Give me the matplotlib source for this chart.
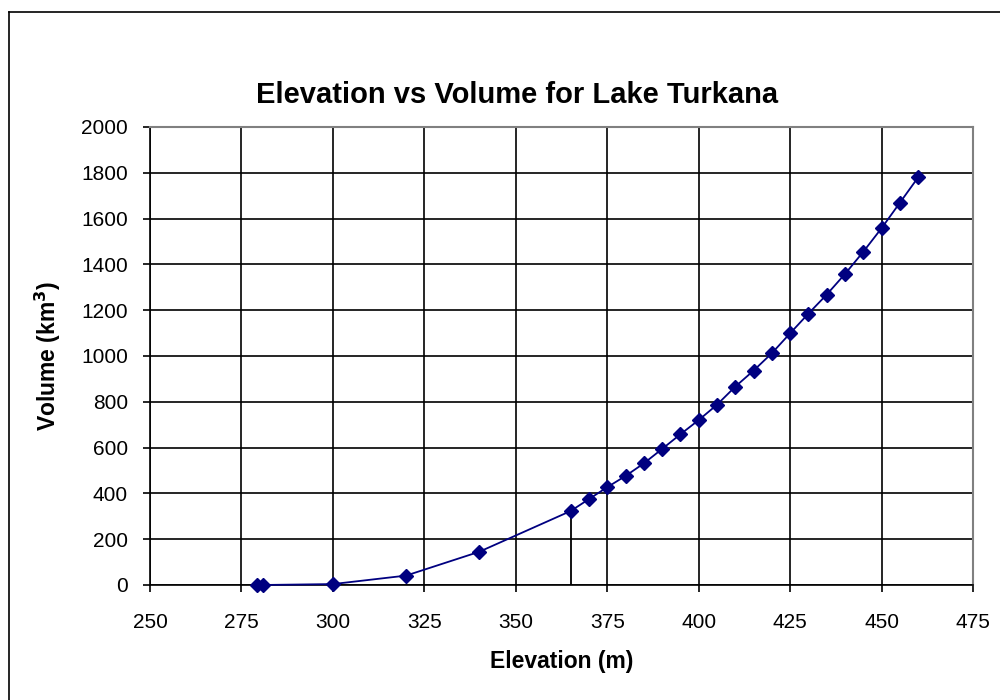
import matplotlib
matplotlib.use("Agg")
import matplotlib.pyplot as plt
from matplotlib.lines import Line2D

plt.rcParams['font.family'] = ['Liberation Sans', 'DejaVu Sans']

elevation = [279.3, 280.8, 300, 320, 340, 365, 370, 375, 380, 385, 390, 395,
             400, 405, 410, 415, 420, 425, 430, 435, 440, 445, 450, 455, 460]
volume = [0, 0, 4, 41, 145, 323, 375, 427, 476, 531, 594, 658,
          720, 787, 866, 936, 1012, 1099, 1185, 1268, 1358, 1455, 1558, 1669, 1780]
drop_x = 365
drop_y = 323

x_ticks = [250, 275, 300, 325, 350, 375, 400, 425, 450, 475]
y_ticks = [0, 200, 400, 600, 800, 1000, 1200, 1400, 1600, 1800, 2000]

fig = plt.figure(figsize=(10, 7), dpi=100)
ax = fig.add_axes([0.15, 0.1643, 0.823, 0.6543])

# outer chart border
fig.add_artist(Line2D([0.009, 0.009], [0.0, 1 - 12/700], color='black', lw=1.2, transform=fig.transFigure))
fig.add_artist(Line2D([0.009, 1.0], [1 - 12/700, 1 - 12/700], color='black', lw=1.2, transform=fig.transFigure))

ax.plot(elevation, volume, color='#000080', lw=1.3, marker='D', markersize=7.5,
        markerfacecolor='#000080', markeredgecolor='#000080', zorder=4, clip_on=False)
ax.plot([drop_x, drop_x], [0, drop_y], color='black', lw=1.3, zorder=3)

ax.set_xlim(250, 475)
ax.set_ylim(0, 2000)
ax.set_xticks(x_ticks)
ax.set_yticks(y_ticks)
ax.grid(True, color='black', lw=1.2)
ax.set_axisbelow(True)

for s in ['top', 'right']:
    ax.spines[s].set_color('#808080')
    ax.spines[s].set_linewidth(1.5)
for s in ['left', 'bottom']:
    ax.spines[s].set_color('black')
    ax.spines[s].set_linewidth(1.2)

ax.tick_params(axis='both', direction='out', length=5, width=1.2, colors='black', labelsize=15)
ax.tick_params(axis='x', pad=15)
ax.tick_params(axis='y', pad=11)

ax.set_xlabel('Elevation (m)', fontsize=16.5, fontweight='bold', labelpad=13)
ax.set_ylabel('Volume (km$^\\mathbf{3}$)', fontsize=16.5, fontweight='bold', labelpad=13)
fig.text(0.517, 1 - 95/700, 'Elevation vs Volume for Lake Turkana', fontsize=21,
         fontweight='bold', ha='center', va='center')

fig.savefig('out.png', dpi=100, facecolor='white')
